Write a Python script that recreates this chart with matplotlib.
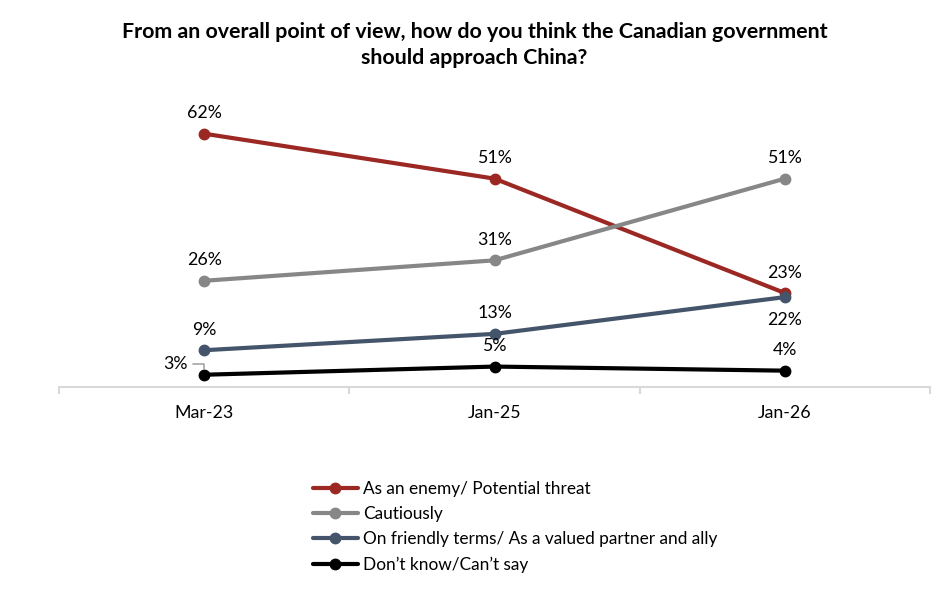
import matplotlib.pyplot as plt

plt.rcParams['font.family'] = ['Lato', 'DejaVu Sans']

periods = ["Mar-23", "Jan-25", "Jan-26"]
enemy = [62, 51, 23]
cautious = [26, 31, 51]
friendly = [9, 13, 22]
dont_know = [3, 5, 4]

series_names = ["As an enemy/ Potential threat", "Cautiously",
                "On friendly terms/ As a valued partner and ally",
                "Don\u2019t know/Can\u2019t say"]
colors = ["#9B2823", "#878787", "#44546A", "#000000"]

fig = plt.figure(figsize=(9.49, 5.9), dpi=100)
ax = fig.add_axes([59 / 949, 1 - 387 / 590, (930 - 59) / 949, (387 - 101) / 590])

x = list(range(len(periods)))
all_series = [enemy, cautious, friendly, dont_know]
for vals, name, c in zip(all_series, series_names, colors):
    ax.plot(x, vals, color=c, lw=3, marker='o', ms=7.5, label=name,
            solid_capstyle='round')

FS = 12.8

# data labels: offsets in points (dy), below labels get negative
def label(xi, v, dy=9, dx=0):
    ax.annotate(f"{v}%", (xi, v), xytext=(dx, dy), textcoords='offset points',
                ha='center', va='bottom' if dy > 0 else 'top', fontsize=FS, color='#000000')

for i, v in enumerate(enemy):
    label(i, v)
for i, v in enumerate(cautious):
    label(i, v)
for i, v in enumerate(friendly):
    if i == 2:
        label(i, v, dy=-11)
    else:
        label(i, v)
for i, v in enumerate(dont_know):
    if i == 0:
        ax.annotate(f"{v}%", (i, v), xytext=(-12, 8), textcoords='offset points',
                    ha='right', va='center', fontsize=FS,
                    arrowprops=dict(arrowstyle='-', color='#A6A6A6', lw=1.2,
                                    shrinkA=2, shrinkB=4,
                                    connectionstyle='angle,angleA=0,angleB=90,rad=0'))
    else:
        label(i, v)

ax.set_xlim(-0.5, len(periods) - 0.5)
ax.set_ylim(0, 70)
ax.set_xticks(x)
ax.set_xticklabels(periods, fontsize=FS)
ax.set_xticks([i - 0.5 for i in range(len(periods) + 1)], minor=True)
ax.tick_params(axis='x', which='major', length=0, pad=13)
ax.tick_params(axis='x', which='minor', length=5, color='#D9D9D9', width=1.5)
ax.set_yticks([])
for s in ['top', 'right', 'left']:
    ax.spines[s].set_visible(False)
ax.spines['bottom'].set_color('#D9D9D9')
ax.spines['bottom'].set_linewidth(1.5)
for line in ax.lines:
    line.set_clip_on(False)

fig.text(0.5, 1 - 45 / 590,
         "From an overall point of view, how do you think the Canadian government\nshould approach China?",
         ha='center', va='center', fontsize=15.4, fontweight='bold', linespacing=1.4)

fig.legend(loc='upper left', bbox_to_anchor=(313 / 949, 1 - 481 / 590), frameon=False,
           fontsize=12.4, handlelength=2.6, handletextpad=0.3, labelspacing=0.53,
           borderaxespad=0, borderpad=0)

fig.savefig("out.png", dpi=100)
